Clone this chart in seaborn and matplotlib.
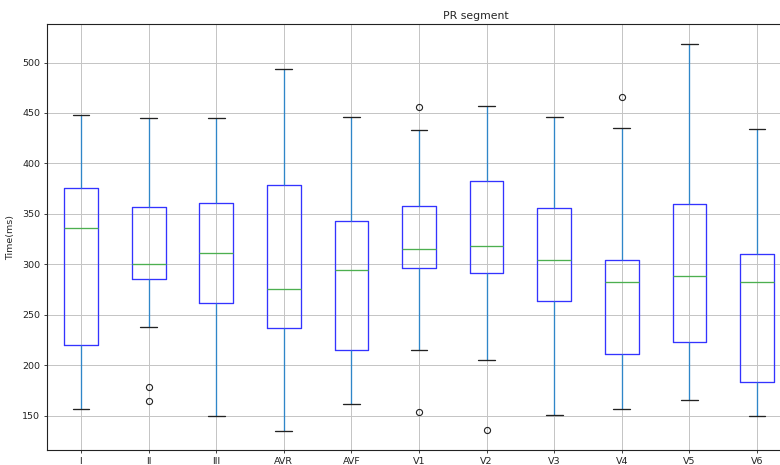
import matplotlib
matplotlib.use("Agg")
import matplotlib.pyplot as plt
import numpy as np
import pandas as pd
import seaborn as sns

# PR segment duration per ECG lead (ms): five-number summaries and outliers
leads = ["I", "II", "III", "AVR", "AVF", "V1", "V2", "V3", "V4", "V5", "V6"]
whisker_low = [156.0, 238.0, 149.4, 134.5, 161.9, 215.2, 204.9, 150.7, 156.6, 165.2, 149.4]
q1 = [219.8, 285.4, 261.8, 236.4, 215.2, 296.2, 291.6, 263.5, 210.6, 222.8, 183.1]
median = [335.6, 300.5, 310.8, 275.4, 294.2, 314.8, 317.7, 303.8, 282.7, 288.3, 282.7]
q3 = [375.6, 356.6, 360.7, 378.3, 343.2, 357.8, 382.2, 356.1, 303.8, 360.1, 310.4]
whisker_high = [448.1, 445.1, 445.4, 493.7, 445.7, 433.5, 457.3, 445.7, 435.2, 518.2, 433.8]
outliers = [[], [177.8, 164.6], [], [], [], [456.0, 153.6], [135.5], [], [465.9], [], []]

# Long-form table: each summary value is given equal weight so that the
# quartiles and whiskers computed by seaborn land on the values above.
WEIGHT = 10
rows = []
for i, lead in enumerate(leads):
    for v in (whisker_low[i], q1[i], median[i], q3[i], whisker_high[i]):
        rows += [(lead, v)] * WEIGHT
    rows += [(lead, v) for v in outliers[i]]
df = pd.DataFrame(rows, columns=["lead", "ms"])

sns.set_theme(style="ticks")
plt.rcParams["font.family"] = ["DejaVu Sans"]

fig = plt.figure(figsize=(7.8, 4.65), dpi=100)
ax = fig.add_axes([47.2 / 780, 15 / 465, 743.6 / 780, 426 / 465])

sns.boxplot(
    data=df, x="lead", y="ms", order=leads, ax=ax,
    width=0.5, fill=False, whis=1.5, linewidth=0.95,
    boxprops=dict(color="#3333ff"),
    whiskerprops=dict(color="#2f86c8"),
    capprops=dict(color="#222222"),
    medianprops=dict(color="#4caf50"),
    flierprops=dict(marker="o", markersize=4.4, markerfacecolor="none",
                    markeredgecolor="#222222", markeredgewidth=0.8),
)

ax.set_xlim(-0.5, len(leads) - 0.5)
ax.set_ylim(115.8, 538.2)
ax.set_yticks([150, 200, 250, 300, 350, 400, 450, 500])
ax.grid(True, color="#c4c4c4", linewidth=0.7)
ax.set_axisbelow(True)
for s in ax.spines.values():
    s.set_color("#222222")
    s.set_linewidth(0.8)
ax.tick_params(axis="both", labelsize=6.8, length=2.4, width=0.6, colors="#222222", pad=2.5)
ax.set_xlabel("")
ax.set_ylabel("Time(ms)", fontsize=6.8, labelpad=5)
ax.set_title("PR segment", fontsize=7.8, x=0.5767, pad=3.5)

fig.savefig("out.png", dpi=100)
